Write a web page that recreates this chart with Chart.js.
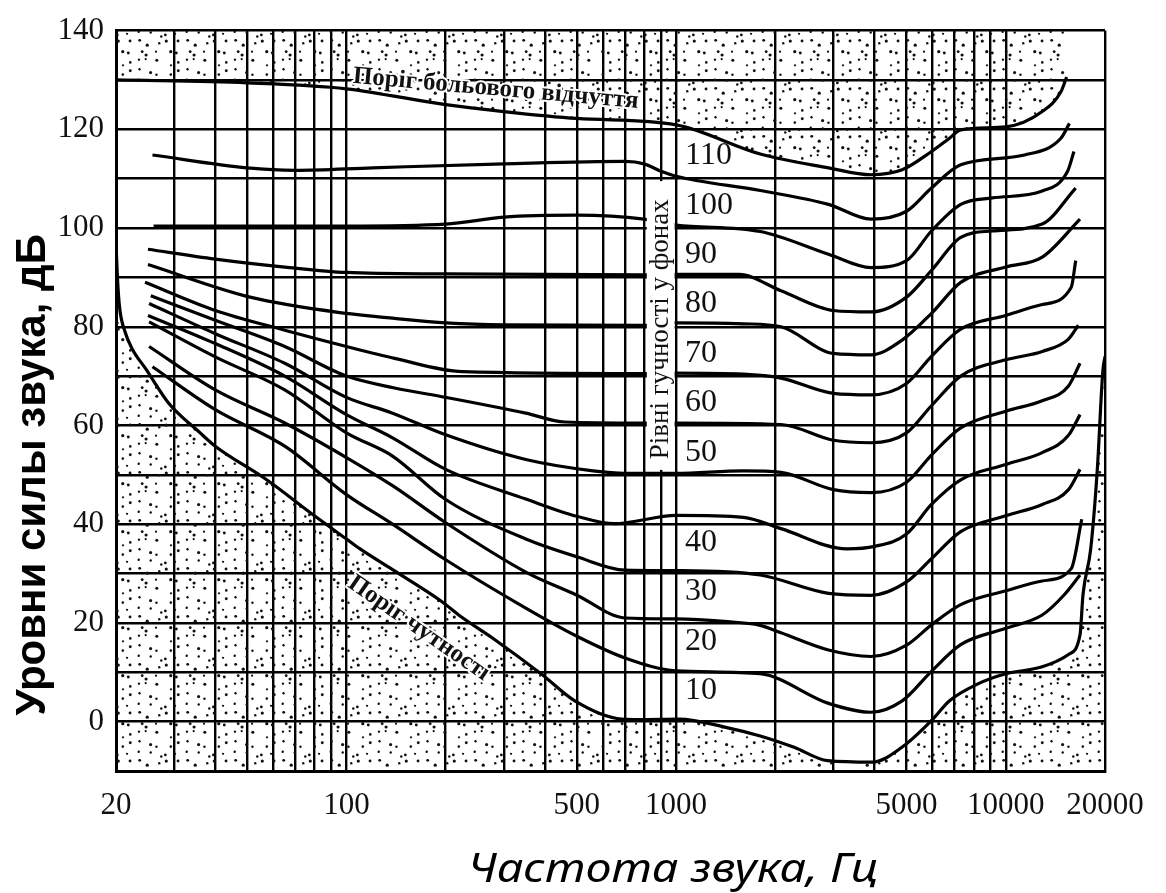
<!DOCTYPE html>
<html>
<head>
<meta charset="utf-8">
<script src="https://cdn.jsdelivr.net/npm/chart.js@4.4.1/dist/chart.umd.min.js"></script>
<style>
  html, body { margin: 0; padding: 0; background: #fff; }
</style>
</head>
<body>
<canvas id="chart" width="1166" height="893"></canvas>
<script>
/*** data ***/
const xGrid = [20, 30, 40, 50, 60, 70, 80, 90, 100, 200, 300, 400, 500, 600, 700, 800, 900,
  1000, 2000, 3000, 4000, 5000, 6000, 7000, 8000, 9000, 10000, 20000];
const xLabels = [20, 100, 500, 1000, 5000, 10000, 20000];

// поріг больового відчуття
const painHz = [20, 50, 100, 200, 300, 500, 1000, 1800, 2900, 3900, 4850, 5950, 6750, 7300, 10000, 12900, 14700, 15300];
const painDb = [130, 129.4, 128.2, 125, 123.6, 122.2, 120.9, 115, 112.2, 110.8, 111.8, 115.5, 118.2, 119.9, 120.5, 123.6, 127.6, 130.6];

// криві рівної гучності
const h110Hz = [25.8, 50, 70, 120, 300, 700, 800, 900, 1000, 1800, 2900, 3900, 5000, 5950, 7300, 11400, 14700, 15600];
const h110Db = [114.8, 112.2, 111.7, 112.2, 113, 113.5, 113, 111.5, 110.5, 107.6, 104.8, 101.8, 103.4, 108.1, 112.8, 114.8, 118.2, 121.2];

const h100Hz = [26, 100, 200, 300, 500, 800, 1000, 1800, 2900, 3900, 5000, 5950, 7300, 9100, 12900, 15400, 16100];
const h100Db = [100.4, 100.4, 100.8, 102.2, 102.6, 101.8, 100.6, 99.3, 94.7, 92, 93.4, 99.4, 104.8, 106.1, 107.5, 111.5, 115.5];

const h90Hz = [25, 40, 65, 100, 200, 800, 1000, 1550, 2080, 3000, 3900, 5000, 5950, 7300, 9100, 12900, 16300];
const h90Db = [95.7, 93.7, 92.1, 91, 90.7, 90.5, 90.6, 90.6, 87.3, 83.3, 83, 86, 91.4, 98.1, 99.4, 100.8, 108.1];

const h80Hz = [25, 51, 100, 140, 200, 300, 800, 1000, 1600, 2080, 3000, 3900, 4850, 5950, 7300, 10000, 12900, 16800];
const h80Db = [92.6, 86, 82.7, 81.7, 80.8, 80.4, 80.3, 80.8, 80.6, 80, 74.6, 74.3, 77.3, 82.7, 89, 92.1, 94.1, 101.8];

const h70Hz = [24.5, 40, 65, 100, 140, 225, 800, 1000, 1600, 2080, 3000, 3900, 5000, 5950, 7300, 10000, 12900, 15800, 16300];
const h70Db = [89, 83.3, 79.3, 76, 73.6, 70.9, 70.5, 70.6, 70.4, 69.6, 66.5, 66.2, 68.5, 74, 79.5, 82.3, 84.5, 88, 93.4];

const h60Hz = [25.5, 40, 65, 100, 140, 200, 350, 460, 800, 1000, 2080, 3000, 3900, 5000, 5950, 7300, 10000, 12900, 15500, 16600];
const h60Db = [86.3, 81.3, 76, 70, 67.6, 65.7, 62.5, 60.7, 60.5, 60.5, 60.2, 57, 56.5, 58.5, 64, 70, 73.3, 75, 77.5, 80.3];

const h50Hz = [25.2, 40, 65, 100, 138, 200, 350, 560, 700, 1000, 1600, 2080, 3000, 3900, 5000, 5950, 7300, 10000, 12900, 15500, 16800];
const h50Db = [84.7, 78.6, 72.6, 65.7, 62.5, 58.1, 53.1, 50.8, 50.3, 50.3, 50.8, 50.5, 47, 46.4, 48.5, 54, 59.5, 62.9, 65, 68, 72.6];

const h40Hz = [25, 40, 65, 100, 138, 200, 350, 500, 650, 1000, 1600, 2080, 3300, 4000, 5000, 5950, 7300, 10000, 12900, 15500, 16800];
const h40Db = [82.3, 76.6, 70, 62.2, 57.5, 51.1, 45.1, 41.6, 40.1, 41.8, 41.4, 39.1, 35, 35.5, 38, 44, 49, 52.1, 54.5, 58, 62.2];

const h30Hz = [25.2, 40, 65, 100, 138, 200, 350, 500, 700, 1000, 1800, 2900, 3900, 5000, 5950, 7300, 10000, 12900, 15500, 16800];
const h30Db = [81, 73.9, 67.2, 58.5, 53.8, 45, 37, 33.4, 30.7, 30.6, 29.7, 26, 25.6, 28.3, 33, 38.5, 41.7, 44, 47, 51.1];

const h20Hz = [25.2, 40, 65, 100, 138, 200, 350, 500, 700, 1000, 1400, 1800, 2080, 2900, 3900, 5000, 5950, 7300, 10000, 12900, 15800, 17000];
const h20Db = [76, 67.2, 60.5, 53.5, 47.8, 40.3, 30.3, 25.6, 21, 20.8, 20.3, 19.5, 18, 14.5, 13.2, 15.5, 19.6, 23.7, 26.5, 28.5, 31, 41];

const h10Hz = [25.8, 40, 65, 100, 138, 200, 350, 500, 700, 1000, 1800, 2900, 3900, 4850, 5950, 7300, 10000, 12900, 15000, 16800];
const h10Db = [71.9, 63.2, 55.8, 46, 40, 32.8, 23, 17.3, 12.9, 10.3, 9.7, 3.7, 1.9, 4.2, 10.2, 15.6, 18.9, 21.6, 25.6, 29.7];

// поріг чутності
const thrHz = [20, 20.2, 20.5, 21.3, 22.4, 24.6, 28.9, 36, 40, 57, 80, 100, 110, 138, 195, 219, 278, 391, 493, 684, 780,
  1020, 1425, 1800, 2280, 2880, 3940, 4840, 5950, 6740, 8200, 10000, 12900, 15500, 16800, 17150, 18100, 18950, 19700, 20000];
const thrDb = [97, 90, 84, 79, 75.5, 71.5, 64.5, 58.5, 55.8, 49.1, 41.7, 37, 35, 30.8, 24.3, 21.6, 16.9, 9.6, 4.2, 0.5, 0.4,
  0.5, -1.2, -2.9, -5.2, -7.9, -8.2, -5.2, 0.2, 4.2, 7.6, 9.7, 11.1, 13.6, 17.6, 25.7, 35, 51, 71, 74];

const phonLabels = ['110', '100', '90', '80', '70', '60', '50', '40', '30', '20', '10'];
const phonValues = [110, 100, 90, 80, 70, 60, 50, 40, 30, 20, 10];

/*** helpers ***/
function toPoints(hz, db) {
  return hz.map((f, i) => ({ x: f, y: db[i] }));
}

// крапчасте заповнення (фіксований генератор, тільки текстура)
function makeStipple() {
  const size = 48;
  const cells = 5;
  const step = size / cells;
  const c = document.createElement('canvas');
  c.width = size;
  c.height = size;
  const g = c.getContext('2d');
  let s = 12345;
  const next = () => {
    s = (s * 16807) % 2147483647;
    return s / 2147483647;
  };
  g.fillStyle = '#111';
  for (let i = 0; i < cells; i++) {
    for (let j = 0; j < cells; j++) {
      const px = (i + 0.15 + next() * 0.7) * step;
      const py = (j + 0.15 + next() * 0.7) * step;
      g.beginPath();
      g.arc(px, py, 1.1 + next() * 0.5, 0, Math.PI * 2);
      g.fill();
    }
  }
  return g.createPattern(c, 'repeat');
}
const stipple = makeStipple();

const curves = [
  [h110Hz, h110Db], [h100Hz, h100Db], [h90Hz, h90Db], [h80Hz, h80Db], [h70Hz, h70Db], [h60Hz, h60Db],
  [h50Hz, h50Db], [h40Hz, h40Db], [h30Hz, h30Db], [h20Hz, h20Db], [h10Hz, h10Db],
];

const datasets = [
  { data: toPoints(painHz, painDb), fill: 'end', backgroundColor: stipple },
  { data: toPoints(thrHz, thrDb), fill: 'start', backgroundColor: stipple },
  ...curves.map(([hz, db]) => ({ data: toPoints(hz, db), fill: false })),
];

// текст з білою обвідкою, щоб читався поверх крапок
function haloText(ctx, text) {
  ctx.lineJoin = 'round';
  ctx.strokeStyle = '#fff';
  ctx.lineWidth = 4;
  ctx.strokeText(text, 0, 0);
  ctx.fillStyle = '#111';
  ctx.fillText(text, 0, 0);
}

/*** тексти на полі графіка ***/
const annotPlugin = {
  id: 'annot',
  afterDatasetsDraw(chart) {
    const { ctx } = chart;
    const x = chart.scales.x;
    const y = chart.scales.y;

    // біла плашка під вертикальним підписом
    const bx0 = x.getPixelForValue(815);
    const bx1 = x.getPixelForValue(1000) - 1.5;
    const by0 = y.getPixelForValue(109.5);
    const by1 = y.getPixelForValue(51);
    ctx.save();
    ctx.fillStyle = '#fff';
    ctx.fillRect(bx0, by0, bx1 - bx0, by1 - by0);
    ctx.fillStyle = '#111';
    ctx.translate((bx0 + bx1) / 2, y.getPixelForValue(79.5));
    ctx.rotate(-Math.PI / 2);
    ctx.font = '27px "Liberation Serif"';
    ctx.textAlign = 'center';
    ctx.textBaseline = 'middle';
    ctx.fillText('Рівні гучності у фонах', 0, 0);
    ctx.restore();

    // рівні у фонах
    ctx.save();
    ctx.fillStyle = '#111';
    ctx.font = '32px "Liberation Serif"';
    ctx.textAlign = 'left';
    ctx.textBaseline = 'middle';
    phonLabels.forEach((t, i) => {
      const v = phonValues[i];
      const off = v >= 50 ? 4.6 : -3.7;
      ctx.fillText(t, x.getPixelForValue(1000) + 9, y.getPixelForValue(v + off));
    });
    ctx.restore();

    // поріг больового відчуття
    ctx.save();
    const p0x = x.getPixelForValue(100);
    const p0y = y.getPixelForValue(128.2);
    const p1x = x.getPixelForValue(900);
    const p1y = y.getPixelForValue(122.6);
    ctx.translate(p0x + 6, p0y - 6);
    ctx.rotate(Math.atan2(p1y - p0y, p1x - p0x));
    ctx.font = 'bold 25px "Liberation Serif"';
    ctx.textBaseline = 'alphabetic';
    haloText(ctx, 'Поріг больового відчуття');
    ctx.restore();

    // поріг чутності
    ctx.save();
    const t0x = x.getPixelForValue(100);
    const t0y = y.getPixelForValue(37);
    const t1x = x.getPixelForValue(391);
    const t1y = y.getPixelForValue(9.6);
    ctx.translate(x.getPixelForValue(108), y.getPixelForValue(30.6));
    ctx.rotate(Math.atan2(t1y - t0y, t1x - t0x));
    ctx.font = 'bold 25px "Liberation Serif"';
    ctx.textBaseline = 'top';
    haloText(ctx, 'Поріг чутності');
    ctx.restore();
  },
  afterDraw(chart) {
    const { ctx } = chart;
    const x = chart.scales.x;
    const y = chart.scales.y;
    // назва осі Y
    ctx.save();
    ctx.translate(33, y.getPixelForValue(50));
    ctx.rotate(-Math.PI / 2);
    ctx.fillStyle = '#000';
    ctx.font = 'bold 42px "Liberation Sans"';
    ctx.textAlign = 'center';
    ctx.textBaseline = 'middle';
    ctx.fillText('Уровни силы звука, дБ', 0, 0);
    ctx.restore();
    // назва осі X
    ctx.save();
    ctx.fillStyle = '#000';
    ctx.translate(x.getPixelForValue(980), chart.chartArea.bottom + 111);
    ctx.scale(1.14, 1);
    ctx.font = 'italic 41px "Noto Sans"';
    ctx.textAlign = 'center';
    ctx.textBaseline = 'alphabetic';
    ctx.fillText('Частота звука, Гц', 0, 0);
    ctx.restore();
  },
};

/*** chart ***/
new Chart(document.getElementById('chart'), {
  type: 'line',
  data: { datasets: datasets },
  options: {
    responsive: false,
    animation: false,
    devicePixelRatio: 1,
    layout: { padding: { top: 25, right: 61, bottom: 0, left: 0 } },
    plugins: {
      legend: { display: false },
      tooltip: { enabled: false },
    },
    elements: {
      point: { radius: 0 },
      line: {
        borderWidth: 3.2,
        borderColor: '#000',
        cubicInterpolationMode: 'monotone',
      },
    },
    scales: {
      x: {
        type: 'logarithmic',
        min: 20,
        max: 20000,
        afterBuildTicks: (scale) => {
          scale.ticks = xGrid.map((v) => ({ value: v }));
        },
        afterFit: (scale) => {
          scale.height = 122;
        },
        grid: { color: '#000', lineWidth: 2.4, drawTicks: false },
        border: { color: '#000', width: 3 },
        ticks: {
          autoSkip: false,
          maxRotation: 0,
          padding: 16,
          color: '#111',
          font: { family: '"Liberation Serif"', size: 31 },
          callback: (v) => (xLabels.includes(v) ? String(v) : ''),
        },
      },
      y: {
        min: -10,
        max: 140,
        afterFit: (scale) => {
          scale.width = 116;
        },
        grid: { color: '#000', lineWidth: 2.4, drawTicks: false },
        border: { color: '#000', width: 3 },
        ticks: {
          stepSize: 10,
          padding: 12,
          color: '#111',
          font: { family: '"Liberation Serif"', size: 31 },
          callback: (v) => (v >= 0 && v % 20 === 0 ? String(v) : ''),
        },
      },
    },
  },
  plugins: [annotPlugin],
});
</script>
</body>
</html>
